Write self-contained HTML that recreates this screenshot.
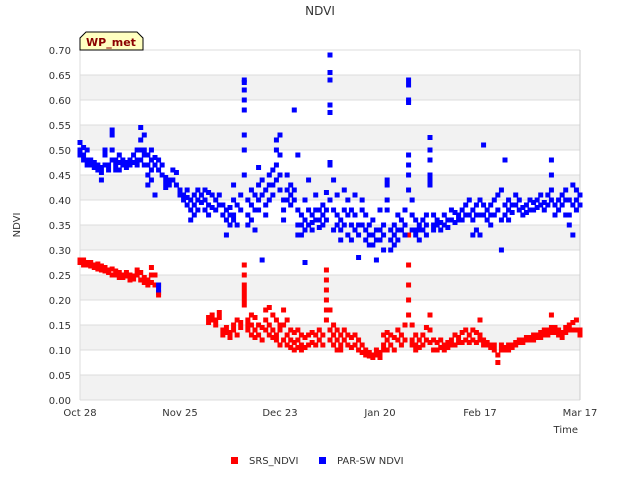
<!DOCTYPE html>
<html><head><meta charset="utf-8"><style>
body{margin:0;background:#fff;}
svg{display:block;font-family:"DejaVu Sans","Liberation Sans",sans-serif;}
</style></head><body>
<svg id="chart" width="640" height="480">
<text x="320" y="15" text-anchor="middle" font-size="12" fill="#333">NDVI</text>
<text x="20" y="225" text-anchor="middle" font-size="10" fill="#333" transform="rotate(-90 20 225)">NDVI</text>
<text x="578" y="433" text-anchor="end" font-size="10" fill="#333">Time</text>
<g id="bands"></g>
<g id="yticks"></g>
<g id="xticks"></g>
<g id="srs"></g>
<g id="par"></g>
<g>
<path d="M80,50 L80,38 L86,32 L137,32 L143,38 L143,50 Z" fill="#ffffc0" stroke="#000" stroke-width="1"/>
<text x="111" y="46" text-anchor="middle" font-size="11" font-weight="bold" fill="#8b0000">WP_met</text>
</g>
<g>
<g><rect x="231" y="457" width="7" height="7" fill="#f00"/><text x="249" y="464" font-size="10" fill="#333">SRS_NDVI</text></g>
<g><rect x="319" y="457" width="7" height="7" fill="#00f"/><text x="337" y="464" font-size="10" fill="#333">PAR-SW NDVI</text></g>
</g>
</svg>
<script>
const yTicks=[0,0.05,0.1,0.15,0.2,0.25,0.3,0.35,0.4,0.45,0.5,0.55,0.6,0.65,0.7];
const xTickLabels=["Oct 28","Nov 25","Dec 23","Jan 20","Feb 17","Mar 17"];
const xTickDays=[0,28,56,84,112,140];
const srsDays=[0,1,2,3,4,5,6,7,8,9,10,11,12,13,14,15,16,17,18,19,20,21,22,36,37,38,39,40,41,42,43,44,45,46,47,48,49,50,51,52,53,54,55,56,57,58,59,60,61,62,63,64,65,66,67,68,69,70,71,72,73,74,75,76,77,78,79,80,81,82,83,84,85,86,87,88,89,90,91,92,93,94,95,96,97,98,99,100,101,102,103,104,105,106,107,108,109,110,111,112,113,114,115,116,117,118,119,120,121,122,123,124,125,126,127,128,129,130,131,132,133,134,135,136,137,138,139,140];
const srsVals=[[.28,.275],[.28,.27],[.275,.27],[.275,.268],[.27,.265],[.272,.262],[.268,.26],[.265,.258],[.26,.255],[.262,.25],[.258,.25],[.255,.245],[.25,.245],[.255,.248],[.25,.24],[.248,.242],[.26,.25],[.255,.24],[.245,.235],[.24,.23],[.265,.25,.235],[.25,.23],[.23,.215,.21],
[.165,.155],[.17,.16],[.16,.15],[.175,.165],[.14,.13],[.145,.135],[.135,.125],[.15,.14],[.16,.13],[.155,.145],[.27,.25,.23,.22,.21,.2,.19],[.16,.15,.14],[.17,.15,.13],[.165,.14,.125],[.15,.13],[.145,.12],[.18,.16,.14],[.185,.15,.13],[.17,.14,.125],[.16,.13,.12],[.15,.14,.11],[.18,.15,.12],[.16,.13,.11],[.14,.12,.105],[.135,.115,.1],[.14,.12,.105],[.13,.11,.1],[.125,.105],[.13,.11],[.135,.115],[.13,.11],[.14,.12],[.13,.11],[.26,.24,.22,.2,.18,.16],[.18,.14,.12],[.15,.13,.11],[.14,.12,.1],[.13,.11,.1],[.14,.12],[.13,.11],[.125,.105],[.13,.11],[.12,.1],[.11,.095],[.1,.09],[.095,.088],[.09,.085],[.1,.09],[.095,.085],[.13,.11,.1],[.135,.12,.1],[.13,.11],[.125,.1],[.14,.12],[.13,.11],[.15,.12],[.33,.27,.23,.2,.17],[.15,.12,.11],[.13,.11,.1],[.12,.105],[.13,.11],[.145,.12],[.17,.14,.115],[.12,.1],[.115,.1],[.12,.105],[.11,.1],[.115,.105],[.12,.11],[.13,.11],[.125,.115],[.135,.115],[.14,.12],[.13,.115],[.14,.12],[.135,.115],[.16,.13,.12],[.12,.11],[.115,.11],[.11,.105],[.11,.1],[.09,.075],[.11,.1],[.105,.1],[.11,.1],[.11,.105],[.115,.11],[.12,.115],[.12,.115],[.125,.12],[.125,.12],[.13,.12],[.13,.125],[.135,.125],[.14,.13],[.14,.13],[.17,.145,.135],[.145,.135],[.14,.13],[.135,.125],[.145,.135],[.15,.14],[.155,.14],[.16,.14],[.14,.13]];
const parDays=[0,1,2,3,4,5,6,7,8,9,10,11,12,13,14,15,16,17,18,19,20,21,22,23,24,25,26,27,28,29,30,31,32,33,34,35,36,37,38,39,40,41,42,43,44,45,46,47,48,49,50,51,52,53,54,55,56,57,58,59,60,61,62,63,64,65,66,67,68,69,70,71,72,73,74,75,76,77,78,79,80,81,82,83,84,85,86,87,88,89,90,91,92,93,94,95,96,97,98,99,100,101,102,103,104,105,106,107,108,109,110,111,112,113,114,115,116,117,118,119,120,121,122,123,124,125,126,127,128,129,130,131,132,133,134,135,136,137,138,139,140];
const parVals=[[.515,.5,.49],[.505,.49,.48],[.5,.48,.47],[.48,.47],[.475,.465],[.47,.46],[.465,.455,.44],[.5,.49,.47],[.47,.46],[.54,.53,.5,.48],[.48,.47,.46],[.49,.475,.46],[.48,.47],[.475,.465],[.48,.47],[.49,.475],[.5,.48,.47],[.545,.52,.5,.48],[.53,.5,.49,.47],[.49,.47,.45,.43],[.5,.48,.46,.44],[.485,.47,.41],[.48,.46,.23,.22],[.47,.45],[.445,.435,.425],[.44,.43],[.46,.44],[.455,.43],[.42,.41],[.41,.4],[.42,.405,.39],[.4,.38,.36],[.41,.39,.37],[.42,.4,.38],[.41,.395],[.42,.4,.38],[.415,.39,.37],[.41,.385],[.4,.38],[.41,.39],[.39,.37],[.38,.36,.33],[.385,.37,.35],[.43,.4,.37,.36],[.39,.35],[.41,.38],[.64,.635,.62,.6,.58,.53,.5,.45],[.4,.37,.35],[.42,.39,.36],[.41,.38,.34],[.465,.43,.4,.38],[.44,.41,.28],[.42,.39,.37],[.45,.43,.4],[.46,.43,.41],[.52,.5,.47,.44],[.53,.49,.45,.42],[.4,.38,.36],[.45,.42,.4],[.43,.41,.39],[.58,.42,.4],[.49,.38,.35,.33],[.37,.35,.33],[.4,.275,.36,.34],[.44,.38,.35],[.37,.355,.34],[.41,.38,.36],[.38,.36,.345],[.39,.37,.35],[.415,.38,.36],[.69,.655,.64,.59,.575,.475,.47,.4],[.44,.38,.34],[.41,.37,.35],[.36,.34,.32],[.42,.38,.35],[.4,.37,.33],[.38,.35,.32],[.41,.37,.34],[.35,.33,.285],[.4,.38,.35],[.37,.34,.32],[.35,.33,.31],[.36,.33,.31],[.34,.32,.28],[.38,.34,.32],[.35,.33,.3],[.44,.43,.4,.38],[.34,.32,.3],[.35,.33,.31],[.37,.34,.32],[.36,.34],[.38,.35,.33],[.64,.63,.6,.595,.49,.47,.45,.42],[.4,.37,.34],[.36,.34,.33],[.35,.34,.32],[.36,.34],[.37,.35,.33],[.525,.5,.48,.45,.44,.43],[.37,.35,.34],[.36,.35],[.355,.34],[.37,.35],[.36,.345],[.38,.36],[.375,.355],[.37,.36],[.38,.36],[.39,.37],[.4,.37],[.38,.36,.33],[.39,.37,.34],[.4,.37,.33],[.51,.39,.37],[.38,.36],[.39,.37,.35],[.4,.37],[.41,.38],[.42,.3,.36],[.48,.39,.37],[.4,.38,.36],[.39,.375],[.41,.39],[.4,.38],[.385,.37],[.39,.375],[.4,.38],[.395,.38],[.4,.385],[.41,.39],[.395,.38],[.41,.39],[.48,.45,.42,.4],[.39,.37],[.4,.38],[.41,.39],[.42,.4,.37],[.4,.37,.35],[.43,.39,.33],[.42,.4,.38],[.41,.39]];

const NS="http://www.w3.org/2000/svg";
const X0=80,X1=580,Y0=400,Y1=50,DAYMAX=140,VMAX=0.7;
function xs(d){return X0+(X1-X0)*d/DAYMAX;}
function ys(v){return Y0-(Y0-Y1)*v/VMAX;}
function mk(tag,attrs,parent){const e=document.createElementNS(NS,tag);for(const k in attrs)e.setAttribute(k,attrs[k]);parent.appendChild(e);return e;}

const bands=document.getElementById('bands');
for(let i=0;i<yTicks.length-1;i++){
  const r=mk('rect',{x:X0,y:ys(yTicks[i+1]),width:X1-X0,height:ys(yTicks[i])-ys(yTicks[i+1]),fill:(i%2===0)?'#f2f2f2':'#ffffff'},bands);
  
  
}
const yt=document.getElementById('yticks');
yTicks.forEach(v=>{
  const l=mk('line',{x1:X0,x2:X1,y1:ys(v),y2:ys(v),stroke:'#dcdcdc','stroke-width':1},yt);
  
  
  const t=mk('text',{x:X0-9,y:ys(v)+4,'text-anchor':'end','font-size':10,fill:'#333'},yt);
  t.textContent=v.toFixed(2);
  
  
});
const xt=document.getElementById('xticks');
mk('line',{x1:X0,x2:X0,y1:Y1,y2:Y0,stroke:'#dcdcdc'},xt);
mk('line',{x1:X1,x2:X1,y1:Y1,y2:Y0,stroke:'#ccc'},xt);
xTickDays.forEach((d,i)=>{
  const t=mk('text',{x:xs(d),y:Y0+16,'text-anchor':'middle','font-size':10,fill:'#333'},xt);
  t.textContent=xTickLabels[i];
  
  
});
function draw(id,days,vals,color){
  const g=document.getElementById(id);
  days.forEach((d,i)=>{vals[i].forEach(v=>{
    const r=mk('rect',{x:xs(d)-2.5,y:ys(v)-2.5,width:5,height:5,fill:color},g);
    
    
  });});
}
draw('srs',srsDays,srsVals,'#ff0000');
draw('par',parDays,parVals,'#0000ff');
</script>
</body></html>
